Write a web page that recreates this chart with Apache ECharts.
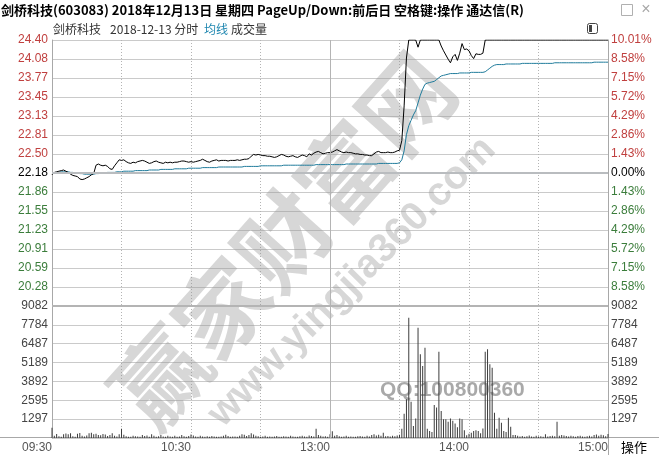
<!DOCTYPE html>
<html><head><meta charset="utf-8">
<script src="https://cdn.jsdelivr.net/npm/echarts@6/dist/echarts.min.js"></script>
<style>html,body{margin:0;padding:0;background:#fff}#c{width:659px;height:455px}</style>
</head><body><div id="c"></div><script>
// ---------- data ----------
const prevClose = 22.18;
const priceLabels = ['24.40','24.08','23.77','23.45','23.13','22.81','22.50','22.18','21.86','21.55','21.23','20.91','20.59','20.28',''];
const pctLabels = ['10.01%','8.58%','7.15%','5.72%','4.29%','2.86%','1.43%','0.00%','1.43%','2.86%','4.29%','5.72%','7.15%','8.58%',''];
const volLabels = ['','1297','2595','3892','5189','6487','7784','9082'];
const timeTickIdx = [0,60,120,180,240];
const timeLabels = ['09:30','10:30','13:00','14:00','15:00'];

const price = [
22.15,22.19,22.20,22.21,22.22,22.23,22.21,22.19,22.16,22.14,
22.13,22.12,22.08,22.07,22.08,22.10,22.12,22.15,22.17,22.31,
22.33,22.31,22.30,22.31,22.29,22.25,22.24,22.30,22.35,22.40,
22.39,22.40,22.37,22.35,22.34,22.36,22.35,22.37,22.38,22.39,
22.38,22.36,22.34,22.35,22.37,22.38,22.36,22.35,22.34,22.36,
22.35,22.36,22.35,22.36,22.36,22.37,22.38,22.38,22.37,22.36,
22.37,22.36,22.37,22.38,22.39,22.41,22.39,22.37,22.36,22.38,
22.39,22.40,22.38,22.39,22.39,22.39,22.38,22.39,22.39,22.39,
22.40,22.39,22.40,22.41,22.41,22.42,22.46,22.49,22.48,22.49,
22.48,22.47,22.47,22.46,22.46,22.45,22.44,22.45,22.47,22.49,
22.48,22.46,22.45,22.46,22.47,22.45,22.44,22.46,22.48,22.47,
22.45,22.50,22.48,22.51,22.53,22.54,22.52,22.50,22.51,22.52,
22.52,22.53,22.55,22.57,22.55,22.53,22.52,22.53,22.52,22.52,
22.51,22.50,22.50,22.49,22.49,22.48,22.48,22.47,22.47,22.50,
22.53,22.54,22.52,22.52,22.52,22.53,22.52,22.52,22.53,22.55,
22.56,22.72,23.30,24.10,24.40,24.40,24.40,24.40,24.28,24.40,
24.40,24.40,24.40,24.40,24.40,24.40,24.40,24.40,24.30,24.22,
24.15,24.08,24.02,24.12,24.16,24.06,24.18,24.34,24.24,24.25,
24.22,24.14,24.09,24.17,24.16,24.16,24.18,24.40,24.40,24.40,
24.40,24.40,24.40,24.40,24.40,24.40,24.40,24.40,24.40,24.40,
24.40,24.40,24.40,24.40,24.40,24.40,24.40,24.40,24.40,24.40,
24.40,24.40,24.40,24.40,24.40,24.40,24.40,24.40,24.40,24.40,
24.40,24.40,24.40,24.40,24.40,24.40,24.40,24.40,24.40,24.40,
24.40,24.40,24.40,24.40,24.40,24.40,24.40,24.40,24.40,24.40,
24.40];

const avgPrice = [
22.17,22.18,22.19,22.19,22.20,22.20,22.20,22.20,22.19,22.19,
22.18,22.18,22.17,22.17,22.16,22.16,22.16,22.16,22.16,22.17,
22.17,22.18,22.18,22.18,22.19,22.19,22.19,22.19,22.20,22.20,
22.20,22.21,22.21,22.21,22.21,22.21,22.22,22.22,22.22,22.22,
22.22,22.22,22.23,22.23,22.23,22.23,22.23,22.24,22.24,22.24,
22.24,22.24,22.24,22.25,22.25,22.25,22.25,22.25,22.25,22.26,
22.26,22.26,22.26,22.26,22.26,22.27,22.27,22.27,22.27,22.27,
22.27,22.27,22.28,22.28,22.28,22.28,22.28,22.28,22.28,22.28,
22.28,22.28,22.28,22.29,22.29,22.29,22.29,22.29,22.29,22.29,
22.30,22.30,22.30,22.30,22.30,22.30,22.30,22.30,22.30,22.30,
22.31,22.31,22.31,22.31,22.31,22.31,22.31,22.31,22.31,22.31,
22.31,22.31,22.31,22.31,22.32,22.32,22.32,22.32,22.32,22.32,
22.32,22.32,22.32,22.32,22.32,22.32,22.32,22.33,22.33,22.33,
22.33,22.33,22.33,22.33,22.33,22.33,22.33,22.33,22.33,22.33,
22.33,22.34,22.34,22.34,22.34,22.34,22.34,22.34,22.34,22.34,
22.35,22.40,22.55,22.82,22.97,23.06,23.15,23.22,23.35,23.48,
23.58,23.66,23.68,23.69,23.70,23.71,23.74,23.77,23.80,23.81,
23.82,23.83,23.84,23.84,23.84,23.84,23.85,23.85,23.85,23.85,
23.85,23.86,23.86,23.86,23.86,23.86,23.86,23.87,23.90,23.93,
23.96,23.98,23.99,23.99,23.99,23.99,24.00,24.00,24.00,24.00,
24.00,24.00,24.00,24.01,24.01,24.01,24.01,24.01,24.01,24.01,
24.01,24.01,24.01,24.01,24.01,24.01,24.01,24.02,24.02,24.02,
24.02,24.02,24.02,24.02,24.02,24.02,24.02,24.02,24.02,24.02,
24.02,24.02,24.02,24.02,24.03,24.03,24.03,24.03,24.03,24.03,
24.03];

const volume = [
700,150,280,120,90,250,310,260,330,120,
80,290,350,160,100,170,320,360,250,300,
210,190,280,240,130,210,330,150,110,260,
640,220,120,90,80,150,120,100,90,210,
140,180,90,260,150,80,120,210,100,90,
160,110,80,150,90,100,210,120,90,130,
240,180,110,90,150,100,80,120,90,140,
100,80,90,110,150,230,140,90,110,100,
80,150,260,220,140,200,330,240,160,120,
80,100,150,90,110,80,100,140,90,80,
120,100,90,150,110,90,80,120,150,100,
90,170,130,110,640,200,150,100,120,90,
250,460,150,200,120,80,100,150,90,110,
80,90,120,140,100,90,160,110,200,250,
180,220,150,360,120,130,100,150,120,180,
220,640,1670,2660,8280,2500,830,1350,7590,5760,
4950,6210,640,480,410,2270,2090,5940,1860,1290,
1290,1120,1350,1190,990,740,1350,1290,530,190,
300,360,480,530,480,320,660,5940,6100,5070,
4840,1740,640,1400,1050,480,410,1400,780,200,
200,150,100,130,90,120,180,110,90,150,
100,120,90,260,100,130,150,120,1120,160,
210,180,140,110,160,120,90,130,150,100,
80,120,160,110,200,240,150,220,190,120,
280];

// time categories (09:30-11:30, 13:01-15:00)
const times = [];
for (let m = 9*60+30; m <= 11*60+30; m++) times.push(String(Math.floor(m/60)).padStart(2,'0')+':'+String(m%60).padStart(2,'0'));
for (let m = 13*60+1; m <= 15*60; m++) times.push(String(Math.floor(m/60)).padStart(2,'0')+':'+String(m%60).padStart(2,'0'));

// ---------- scales ----------
const pctMax = 1001, pctStep = 143;   // hundredths of a percent
const volMax = 9081.55, volStep = volMax / 7;
const toPct = p => (p - prevClose) / prevClose * 10000;
const RED = '#c0403f', GREEN = '#3b7d3b';
const NUMFONT = 'Liberation Sans';
const pIdx = v => Math.round((pctMax - v) / pctStep);
const pColor = v => { const k = pIdx(v); return k < 7 ? RED : (k === 7 ? '#000' : GREEN); };

const vSplit = (i) => i % 30 === 0 && i % 120 !== 0;

const chart = echarts.init(document.getElementById('c'), null, {renderer: 'canvas'});
chart.setOption({
  animation: false,
  backgroundColor: '#fff',
  grid: [
    {left: 52, right: 51, top: 40, height: 266},
    {left: 52, right: 51, top: 306, height: 132}
  ],
  xAxis: [
    {gridIndex: 0, type: 'category', data: times, boundaryGap: false,
     axisLine: {show: false}, axisTick: {show: false}, axisLabel: {show: false},
     splitLine: {show: true, interval: vSplit, lineStyle: {color: '#b4b4b4', type: [1, 2]}}},
    {gridIndex: 1, type: 'category', data: times, boundaryGap: false,
     axisLine: {show: false}, axisTick: {show: false},
     axisLabel: {interval: (i) => timeTickIdx.indexOf(i) >= 0,
       formatter: (v, i) => timeLabels[timeTickIdx.indexOf(i)] || '',
       align: 'right', color: '#555', fontSize: 12, fontFamily: NUMFONT, margin: 4},
     splitLine: {show: true, interval: vSplit, lineStyle: {color: '#b4b4b4', type: [1, 2]}}}
  ],
  yAxis: [
    {gridIndex: 0, type: 'value', min: -pctMax, max: pctMax, interval: pctStep, position: 'left',
     axisLine: {show: true, lineStyle: {color: '#a8a8a8'}}, axisTick: {show: false},
     splitLine: {lineStyle: {color: '#cacaca'}},
     axisLabel: {formatter: v => priceLabels[pIdx(v)], color: pColor, fontSize: 12, fontFamily: NUMFONT, margin: 4}},
    {gridIndex: 0, type: 'value', min: -pctMax, max: pctMax, interval: pctStep, position: 'right',
     axisLine: {show: true, lineStyle: {color: '#a8a8a8'}}, axisTick: {show: false}, splitLine: {show: false},
     axisLabel: {formatter: v => pctLabels[pIdx(v)], color: pColor, fontSize: 12, fontFamily: NUMFONT, margin: 3}},
    {gridIndex: 1, type: 'value', min: 0, max: volMax, interval: volStep, position: 'left',
     axisLine: {show: true, lineStyle: {color: '#a8a8a8'}}, axisTick: {show: false},
     splitLine: {lineStyle: {color: '#cacaca'}},
     axisLabel: {formatter: v => volLabels[Math.round(v / volStep)], color: '#444', fontSize: 12, fontFamily: NUMFONT, margin: 4}},
    {gridIndex: 1, type: 'value', min: 0, max: volMax, interval: volStep, position: 'right',
     axisLine: {show: true, lineStyle: {color: '#a8a8a8'}}, axisTick: {show: false}, splitLine: {show: false},
     axisLabel: {formatter: v => volLabels[Math.round(v / volStep)], color: '#444', fontSize: 12, fontFamily: NUMFONT, margin: 3}}
  ],
  series: [
    {name: '均线', type: 'line', xAxisIndex: 0, yAxisIndex: 0, data: avgPrice.map(toPct),
     showSymbol: false, lineStyle: {color: '#1f7b9b', width: 1}, z: 3,
     markLine: {silent: true, symbol: 'none', label: {show: false},
       data: [{yAxis: 0, lineStyle: {color: '#b9bcbf', width: 2, type: 'solid'}},
              {xAxis: 120, lineStyle: {color: '#b4b4b4', width: 1, type: 'solid'}}]}},
    {name: '价格', type: 'line', xAxisIndex: 0, yAxisIndex: 0, data: price.map(toPct),
     showSymbol: false, lineStyle: {color: '#000', width: 1}, z: 4},
    {name: '成交量', type: 'bar', xAxisIndex: 1, yAxisIndex: 2, data: volume,
     barWidth: 1, itemStyle: {color: '#3c3c3c'}, z: 3,
     markLine: {silent: true, symbol: 'none', label: {show: false},
       data: [{yAxis: volMax, lineStyle: {color: '#b4b4b4', width: 2, type: 'solid'}},
              {xAxis: 120, lineStyle: {color: '#b4b4b4', width: 1, type: 'solid'}}]}}
  ],
  graphic: [
    // watermark
    {type: 'text', x: 283, y: 240, rotation: 0.84, z: 1, silent: true,
     style: {text: '赢家财富网', font: 'bold 92px "Noto Sans CJK SC"', fill: 'rgba(150,150,150,0.38)', textAlign: 'center', textVerticalAlign: 'middle'}},
    {type: 'text', x: 352, y: 282, rotation: 0.79, z: 1, silent: true,
     style: {text: 'www.yingjia360.com', font: 'bold 40px "Liberation Sans"', fill: 'rgba(150,150,150,0.38)', textAlign: 'center', textVerticalAlign: 'middle'}},
    {type: 'text', x: 380, y: 390, z: 1, silent: true,
     style: {text: 'QQ:100800360', font: 'bold 21px "Liberation Sans"', fill: 'rgba(140,140,140,0.75)', textAlign: 'left', textVerticalAlign: 'middle'}},
    // header
    {type: 'text', x: 1, y: 10, style: {text: '剑桥科技(603083) 2018年12月13日 星期四 PageUp/Down:前后日 空格键:操作 通达信(R)', font: 'bold 13px "Noto Sans CJK SC"', fill: '#000', textVerticalAlign: 'middle'}},
    {type: 'rect', shape: {x: 621.5, y: 4.5, width: 11, height: 11}, style: {fill: 'none', stroke: '#b0b0b0', lineWidth: 1}},
    {type: 'text', x: 646, y: 10, style: {text: '×', font: '16px "Liberation Sans"', fill: '#a8a8a8', textAlign: 'center', textVerticalAlign: 'middle'}},
    {type: 'text', x: 53, y: 29, style: {text: '剑桥科技', font: '12px "Noto Sans CJK SC"', fill: '#333', textVerticalAlign: 'middle'}},
    {type: 'text', x: 110, y: 29, style: {text: '2018-12-13 分时', font: '12px "Noto Sans CJK SC"', fill: '#333', textVerticalAlign: 'middle'}},
    {type: 'text', x: 204, y: 29, style: {text: '均线', font: '12px "Noto Sans CJK SC"', fill: '#1f87b0', textVerticalAlign: 'middle'}},
    {type: 'text', x: 231, y: 29, style: {text: '成交量', font: '12px "Noto Sans CJK SC"', fill: '#333', textVerticalAlign: 'middle'}},
    {type: 'rect', shape: {x: 587.5, y: 23.5, width: 10, height: 10, r: 2}, style: {fill: '#fff', stroke: '#444', lineWidth: 1}},
    {type: 'rect', shape: {x: 589, y: 25, width: 3, height: 7}, style: {fill: '#444'}},
    // bottom
    {type: 'line', shape: {x1: 0, y1: 437.5, x2: 659, y2: 437.5}, style: {stroke: '#a8a8a8', lineWidth: 1}},
    {type: 'line', shape: {x1: 608.5, y1: 437, x2: 608.5, y2: 455}, style: {stroke: '#a8a8a8', lineWidth: 1}},
    {type: 'text', x: 634, y: 447, style: {text: '操作', font: '13px "Noto Sans CJK SC"', fill: '#000', textAlign: 'center', textVerticalAlign: 'middle'}}
  ]
});
</script></body></html>
